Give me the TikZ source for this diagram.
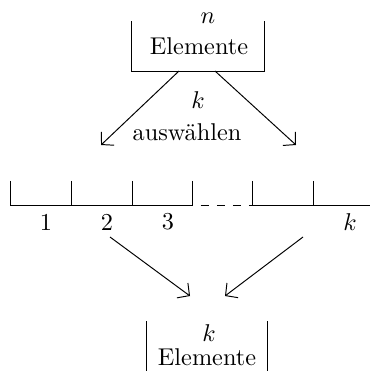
\documentclass[tikz,border=0pt]{standalone}
\usetikzlibrary{arrows.meta}
\begin{document}
\begin{tikzpicture}[x=0.412pt, y=-0.412pt,
    menge/.style={minimum width=54.4pt, minimum height=20.2pt, inner sep=0pt},
    rand/.style={draw, line width=0.4pt},
    luecke/.style={draw, line width=0.4pt, dash pattern=on 3.3pt off 3.3pt, dash phase=3pt},
    pfeil/.style={draw, line width=0.4pt, -{Straight Barb[length=3.6pt, width=7.6pt]}}
]
    \useasboundingbox (0,0) rectangle (371,371);

    % obere Menge
    \node [menge] (oben) at (198,46.5) {};
    \node (n) at (208,18) {$n$};
    \node (nel) at (199,46) {Elemente};
    \draw [rand] (oben.north west) |- (oben.south east) -- (oben.north east);

    % Auswahl
    \node (k1) at (198,100) {$k$};
    \node (ausw) at (187,132) {auswählen};
    \coordinate (o1) at (179,71);
    \coordinate (o2) at (215,71);
    \coordinate (z1) at (101,145);
    \coordinate (z2) at (296,145);
    \draw [pfeil] (o1) -- (z1);
    \draw [pfeil] (o2) -- (z2);

    % Zeile mit k Feldern
    \foreach \x in {10,71,132,192,252,313}
        \draw [rand] (\x,181) -- (\x,205);
    \coordinate (za) at (10,205);
    \coordinate (zb) at (192,205);
    \coordinate (zc) at (252,205);
    \coordinate (zd) at (370,205);
    \draw [rand] (za) -- (zb);
    \draw [luecke] (zb) -- (zc);
    \draw [rand] (zc) -- (zd);
    \node (f1) at (46,222) {1};
    \node (f2) at (107,222) {2};
    \node (f3) at (168,222) {3};
    \node (fk) at (350,222) {$k$};

    % untere Menge
    \coordinate (u1) at (110,237);
    \coordinate (u2) at (303,237);
    \coordinate (v1) at (190,296);
    \coordinate (v2) at (225,296);
    \draw [pfeil] (u1) -- (v1);
    \draw [pfeil] (u2) -- (v2);
    \node [menge, minimum width=49.4pt] (unten) at (207,346) {};
    \node (k2) at (209,333) {$k$};
    \node (kel) at (207,357) {Elemente};
    \draw [rand] (unten.north west) -- (unten.south west);
    \draw [rand] (unten.north east) -- (unten.south east);
\end{tikzpicture}
\end{document}
